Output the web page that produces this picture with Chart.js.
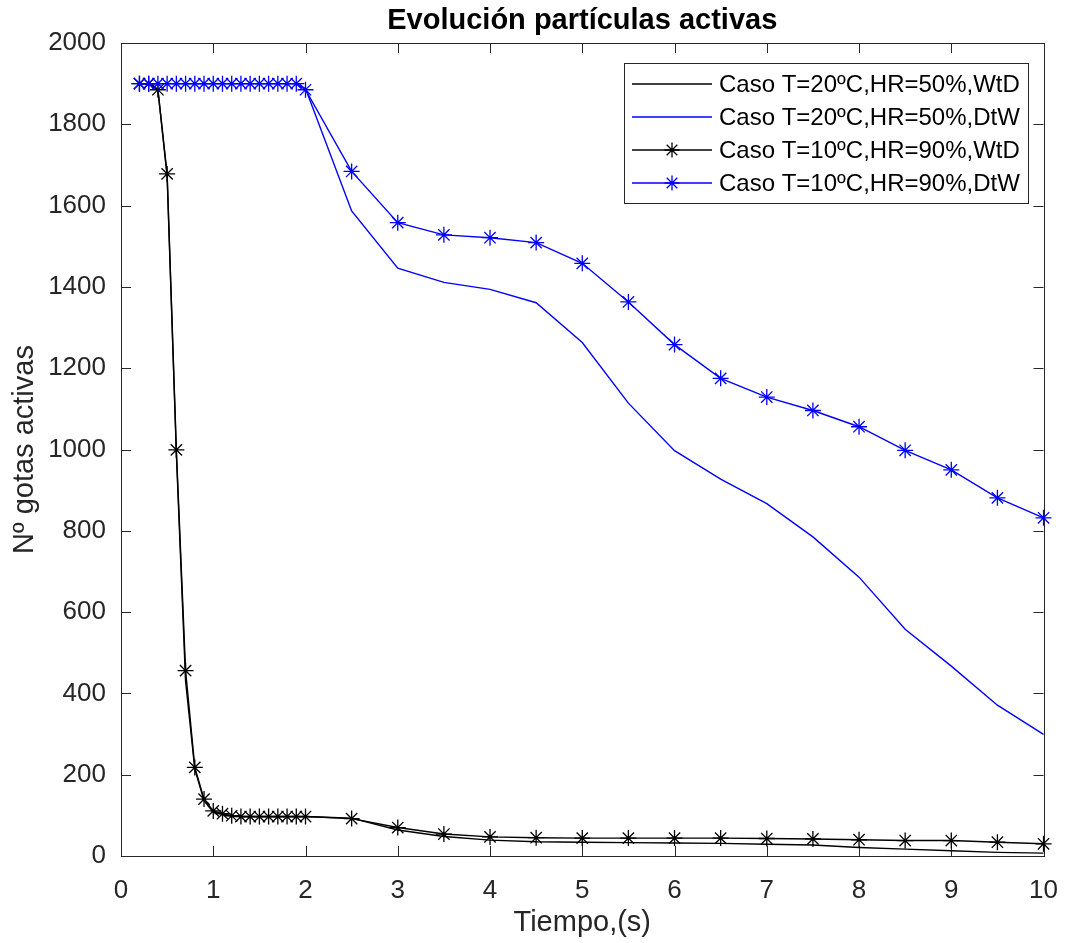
<!DOCTYPE html>
<html>
<head>
<meta charset="utf-8">
<script src="https://cdn.jsdelivr.net/npm/chart.js@4.4.1/dist/chart.umd.min.js"></script>
<style>
html,body{margin:0;padding:0;background:#fff;}
#wrap{width:1069px;height:943px;position:relative;}
</style>
</head>
<body>
<div id="wrap"><canvas id="c"></canvas></div>
<script>
// ---- data ----
const chartTitle = "Evolución partículas activas";
const xLabel = "Tiempo,(s)";
const yLabel = "Nº gotas activas";
const seriesNames = [
  "Caso T=20ºC,HR=50%,WtD",
  "Caso T=20ºC,HR=50%,DtW",
  "Caso T=10ºC,HR=90%,WtD",
  "Caso T=10ºC,HR=90%,DtW"
];
const tiempo = [0.2,0.3,0.4,0.5,0.6,0.7,0.8,0.9,1.0,1.1,1.2,1.3,1.4,1.5,1.6,1.7,1.8,1.9,2.0,
                2.5,3.0,3.5,4.0,4.5,5.0,5.5,6.0,6.5,7.0,7.5,8.0,8.5,9.0,9.5,10.0];
const wtdT20 = [1900,1900,1885,1672,990,430,214,136,108,102,98,97,97,97,97,97,97,97,97,
                93,64,48,39,35,34,33,32,31,29,27,21,17,13,9,7];
const dtwT20 = [1900,1900,1900,1900,1900,1900,1900,1900,1900,1900,1900,1900,1900,1900,1900,1900,1900,1900,1888,
                1587,1446,1411,1394,1361,1263,1114,997,927,867,785,686,558,467,371,299];
const wtdT10 = [1900,1900,1885,1678,999,456,218,140,111,104,99,97,97,97,97,97,97,97,97,
                92,70,54,47,45,44,44,44,44,43,42,40,38,38,34,30];
const dtwT10 = [1900,1900,1900,1900,1900,1900,1900,1900,1900,1900,1900,1900,1900,1900,1900,1900,1900,1900,1885,
                1684,1558,1528,1521,1509,1458,1363,1258,1175,1129,1096,1056,998,950,881,832];
const xTicks = [0,1,2,3,4,5,6,7,8,9,10];
const yTicks = [0,200,400,600,800,1000,1200,1400,1600,1800,2000];

// ---- styles ----
const FONT = "'Liberation Sans', Arial, Helvetica, sans-serif";
const AXC = '#262626';
const BLUE = '#0000ff';
const BLACK = '#000000';

function pts(xs, ys){ return xs.map((x,i)=>({x:x, y:ys[i]})); }

const styles = [
  {color:BLACK, marker:false},
  {color:BLUE, marker:false},
  {color:BLACK, marker:true},
  {color:BLUE, marker:true}
];
const seriesData = [wtdT20, dtwT20, wtdT10, dtwT10];

const datasets = seriesData.map((d,i)=>({
  label: seriesNames[i],
  data: pts(tiempo, d),
  xAxisID: 'x',
  borderColor: styles[i].color,
  backgroundColor: styles[i].color,
  borderWidth: 1.4,
  tension: 0,
  pointStyle: 'star',
  pointRadius: styles[i].marker ? 8 : 0,
  pointHoverRadius: styles[i].marker ? 8 : 0,
  pointBorderColor: styles[i].color,
  pointBorderWidth: 1.3,
  clip: false,
  order: 3 - i
}));

const PLOT = {left:121, right:1048, top:43, bottom:856};

const boxPlugin = {
  id: 'matlabBox',
  beforeDatasetsDraw(chart){
    const ctx = chart.ctx, a = chart.chartArea;
    const xs = chart.scales.x, ys = chart.scales.y;
    ctx.save();
    ctx.strokeStyle = AXC;
    ctx.lineWidth = 1;
    ctx.strokeRect(Math.round(a.left)+0.5, Math.round(a.top)+0.5, Math.round(a.right-a.left), Math.round(a.bottom-a.top));
    const L = 10;
    ctx.beginPath();
    xTicks.forEach(v=>{
      const px = Math.round(xs.getPixelForValue(v))+0.5;
      ctx.moveTo(px, a.bottom); ctx.lineTo(px, a.bottom - L);
      ctx.moveTo(px, a.top); ctx.lineTo(px, a.top + L);
    });
    yTicks.forEach(v=>{
      const py = Math.round(ys.getPixelForValue(v))+0.5;
      ctx.moveTo(a.left, py); ctx.lineTo(a.left + L, py);
      ctx.moveTo(a.right, py); ctx.lineTo(a.right - L, py);
    });
    ctx.stroke();
    ctx.restore();
  }
};

function drawStar(ctx, x, y, r){
  ctx.beginPath();
  ctx.moveTo(x - r, y); ctx.lineTo(x + r, y);
  ctx.moveTo(x, y - r); ctx.lineTo(x, y + r);
  const d = r * Math.SQRT1_2;
  ctx.moveTo(x - d, y - d); ctx.lineTo(x + d, y + d);
  ctx.moveTo(x - d, y + d); ctx.lineTo(x + d, y - d);
  ctx.stroke();
}

const legendPlugin = {
  id: 'matlabLegend',
  afterDraw(chart){
    const ctx = chart.ctx;
    const bx = 624.5, by = 63.5, bw = 404, bh = 140;
    ctx.save();
    ctx.fillStyle = '#fff';
    ctx.fillRect(bx, by, bw, bh);
    ctx.strokeStyle = AXC;
    ctx.lineWidth = 1;
    ctx.strokeRect(bx, by, bw, bh);
    const rowY = [84, 117, 150, 183];
    ctx.font = "24px " + FONT;
    ctx.textBaseline = 'middle';
    ctx.textAlign = 'left';
    chart.data.datasets.forEach((ds, i)=>{
      const y = rowY[i];
      ctx.strokeStyle = ds.borderColor;
      ctx.lineWidth = 1.4;
      ctx.beginPath();
      ctx.moveTo(632, y); ctx.lineTo(712, y);
      ctx.stroke();
      if (ds.pointRadius > 0){
        ctx.lineWidth = 1.3;
        drawStar(ctx, 672, y, 7.5);
      }
      ctx.fillStyle = '#000';
      ctx.fillText(ds.label, 719, y + 1);
    });
    ctx.restore();
  }
};

Chart.defaults.font.family = FONT;
Chart.defaults.color = AXC;

new Chart(document.getElementById('c'), {
  type: 'line',
  data: { datasets: datasets },
  options: {
    responsive: true,
    maintainAspectRatio: false,
    devicePixelRatio: 1,
    animation: false,
    events: [],
    layout: { padding: { left: 0, right: 1069 - PLOT.right, top: 0, bottom: 0 } },
    plugins: {
      legend: { display: false },
      tooltip: { enabled: false },
      title: { display: false }
    },
    scales: {
      x: {
        type: 'linear',
        position: 'bottom',
        min: 0, max: 10,
        afterBuildTicks(s){ s.ticks = xTicks.map(v=>({value:v})); },
        afterFit(s){ s.height = 943 - PLOT.bottom; },
        grid: { display: false },
        border: { display: false },
        ticks: { color: AXC, font: { size: 26, family: FONT }, padding: 11, maxRotation: 0, autoSkip: false,
                 callback: v => String(v) },
        title: { display: true, text: xLabel, color: AXC, font: { size: 29, family: FONT, lineHeight: 1 }, padding: { top: 0, bottom: 6 } }
      },
      xTop: {
        type: 'linear',
        position: 'top',
        min: 0, max: 10,
        afterFit(s){ s.height = PLOT.top; },
        grid: { display: false },
        border: { display: false },
        ticks: { display: false },
        title: { display: true, text: chartTitle, color: '#000', font: { size: 29, weight: 'bold', family: FONT, lineHeight: 1 }, padding: { top: 6, bottom: 0 } }
      },
      y: {
        type: 'linear',
        min: 0, max: 2000,
        afterBuildTicks(s){ s.ticks = yTicks.map(v=>({value:v})); },
        afterFit(s){ s.width = PLOT.left; },
        grid: { display: false },
        border: { display: false },
        ticks: { color: AXC, font: { size: 26, family: FONT }, padding: 7, autoSkip: false,
                 callback: v => String(v) },
        title: { display: true, text: yLabel, color: AXC, font: { size: 29, family: FONT, lineHeight: 1 }, padding: { top: 10, bottom: 0 } }
      }
    }
  },
  plugins: [boxPlugin, legendPlugin]
});
</script>
</body>
</html>
